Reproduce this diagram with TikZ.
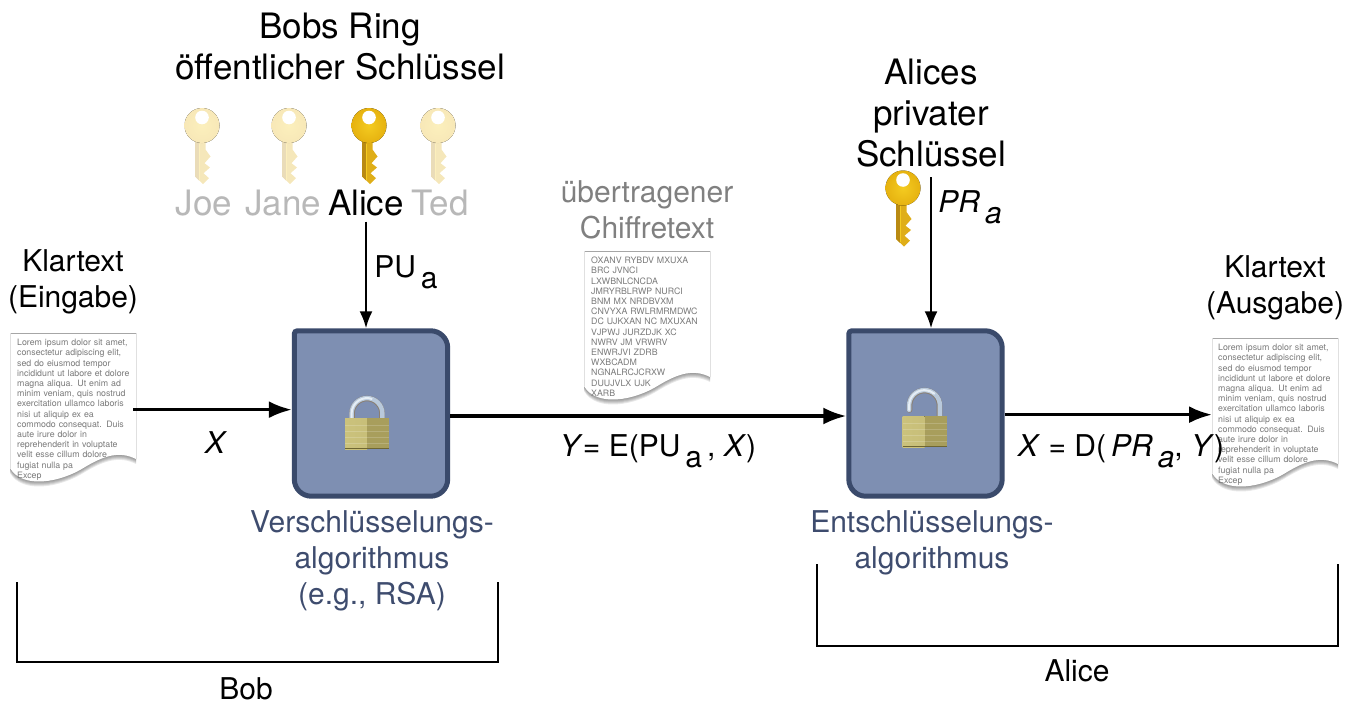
\documentclass[tikz,border=0pt]{standalone}
\usepackage{fontspec}
\usepackage{xcolor}
\usetikzlibrary{arrows.meta}
\setmainfont{TeX Gyre Heros}
\definecolor{boxfill}{HTML}{7E8FB2}
\definecolor{boxline}{HTML}{3A4A6B}
\definecolor{algtext}{HTML}{3E4C6E}
\definecolor{keygold}{HTML}{F4CB20}
\definecolor{keyedge}{HTML}{E6B210}
\definecolor{keyshaft}{HTML}{DFAE18}
\definecolor{keydark}{HTML}{B98A12}
\definecolor{brassl}{HTML}{CBC27C}
\definecolor{brassr}{HTML}{A89E5C}
\definecolor{brassd}{HTML}{6E6632}
\definecolor{steelo}{HTML}{B9C9DB}
\definecolor{steeli}{HTML}{E6EEF5}
\definecolor{steeld}{HTML}{8A7F72}
\newcommand{\fsize}[1]{\fontsize{#1}{#1}\selectfont}
\newcommand{\lowsub}[1]{\,\raisebox{-11pt}{#1}}
\tikzset{
	txt/.style={inner sep=0pt,align=center,font=\fontsize{30}{36}\selectfont},
	bigtxt/.style={inner sep=0pt,align=center,font=\fontsize{35}{41}\selectfont},
	algtxt/.style={txt,text=algtext},
	nametxt/.style={inner sep=0pt,font=\fsize{35},anchor=base},
	papertxt/.style={inner xsep=6pt,inner ysep=0pt,anchor=north west,text width=120pt,align=left,text=black!52,font=\fontsize{8.8}{10.2}\selectfont},
	algbox/.style={inner sep=0pt,minimum width=158pt,minimum height=170pt},
	mainarrow/.style={line width=3.2pt,-{Latex[length=23pt,width=17pt]}},
	keyarrow/.style={line width=2.2pt,-{Latex[length=17pt,width=13pt]}},
	bracket/.style={line width=1.8pt},
	pics/paperpage/.style={code={
		\foreach \d in {1,2,3,4,5}
			\fill [black,opacity=.09,shift={(0,\d)}] (0,0) -- (126,0) -- (126,126) .. controls (110,118) and (95,122) .. (75,134) .. controls (50,150) and (12,156) .. (0,135) -- cycle;
		\fill [white] (0,0) -- (126,0) -- (126,126) .. controls (110,118) and (95,122) .. (75,134) .. controls (50,150) and (12,156) .. (0,135) -- cycle;
		\draw [black!35,line width=.6pt] (0,0) -- (126,0);
		\draw [black!12,line width=.8pt] (126,0) -- (126,126);
		\draw [black!12,line width=.8pt] (0,0) -- (0,135);
	}},
	pics/keyicon/.style={code={
		\fill [keyshaft!#1!white] (-6.8,12) -- (-6.8,51) -- (1,58.7) -- (7,52.7) -- (1.5,47.7) -- (8,42) -- (2.5,37.7) -- (8.5,31) -- (3.5,24) -- (3.5,12) -- cycle;
		\fill [keydark!#1!white] (-6.8,12) -- (-6.8,51) -- (-3,55) -- (-3,12) -- cycle;
		\draw [keygold!#1!white,line width=.9pt] (-2.4,18) -- (-2.4,54);
		\fill [inner color=keygold!#1!white,outer color=keyedge!#1!white] (0,0) circle (17.5);
		\fill [white] (0,-8) circle (6.8);
	}},
	pics/lockbody/.style={code={
		\fill [left color=brassl,right color=brassl!90!brassr] (-22,0) rectangle (0,31);
		\fill [brassr] (0,0) rectangle (22,31);
		\foreach \y in {7,13,19,25}
			\draw [white,opacity=.18,line width=.6pt] (-22,\y) -- (22,\y);
		\draw [brassd,line width=1.2pt] (-22,30.5) -- (22,30.5);
	}},
	pics/lockclosed/.style={code={
		\draw [steeld,line width=5.6pt] (-15,0) -- (-15,-4.5) arc (180:360:15) -- (15,0);
		\draw [steelo,line width=4.4pt] (-15.4,0) -- (-15.4,-4.5) arc (180:360:15.4) -- (15.4,0);
		\draw [steeli,line width=2pt] (-15.4,0) -- (-15.4,-4.5) arc (180:290:15.4);
		\pic {lockbody};
	}},
	pics/lockopen/.style={code={
		\draw [steeld,line width=5.6pt,line cap=round] (-15,-6) -- (-15,-10.5) arc (180:360:15) -- (15,0);
		\draw [steelo,line width=4.4pt,line cap=round] (-15.4,-6) -- (-15.4,-10.5) arc (180:360:15.4) -- (15.4,0);
		\draw [steeli,line width=2pt,line cap=round] (-15.4,-6) -- (-15.4,-10.5) arc (180:310:15.4);
		\pic {lockbody};
	}}
}
\begin{document}
\begin{tikzpicture}[x=1pt,y=-1pt]
	\useasboundingbox (0,0) rectangle (1360,704);

	% Papier
	\pic at (10,333) {paperpage};
	\pic at (584,251) {paperpage};
	\pic at (1212,338) {paperpage};
	\node (plainin) at (11,339) [papertxt] {Lorem ipsum dolor sit amet,\\consectetur adipiscing elit,\\sed do eiusmod tempor\\incididunt ut labore et dolore\\magna aliqua. Ut enim ad\\minim veniam, quis nostrud\\exercitation ullamco laboris\\nisi ut aliquip ex ea\\commodo consequat. Duis\\aute irure dolor in\\reprehenderit in voluptate\\velit esse cillum dolore\\fugiat nulla pa\\Excep};
	\node (cipher) at (585,257) [papertxt] {OXANV RYBDV MXUXA\\BRC JVNCI\\LXWBNLCNCDA\\JMRYRBLRWP NURCI\\BNM MX NRDBVXM\\CNVYXA RWLRMRMDWC\\DC UJKXAN NC MXUXAN\\VJPWJ JURZDJK XC\\NWRV JM VRWRV\\ENWRJVI ZDRB\\WXBCADM\\NGNALRCJCRXW\\DUUJVLX UJK\\XARB};
	\node (plainout) at (1212,344) [papertxt] {Lorem ipsum dolor sit amet,\\consectetur adipiscing elit,\\sed do eiusmod tempor\\incididunt ut labore et dolore\\magna aliqua. Ut enim ad\\minim veniam, quis nostrud\\exercitation ullamco laboris\\nisi ut aliquip ex ea\\commodo consequat. Duis\\aute irure dolor in\\reprehenderit in voluptate\\velit esse cillum dolore\\fugiat nulla pa\\Excep};

	% Algorithmen
	\node (enc) at (371,413.5) [algbox] {};
	\node (dec) at (925.5,413.5) [algbox] {};
	\draw [boxline,fill=boxfill,line width=5pt] ([shift={(2.5,2.5)}]enc.north west) [rounded corners=3pt] -- ([shift={(0,2.5)}]enc.north) [rounded corners=17pt] -- ([shift={(-2.5,2.5)}]enc.north east) -- ([shift={(-2.5,-2.5)}]enc.south east) -- ([shift={(2.5,-2.5)}]enc.south west) [rounded corners=3pt] -- cycle;
	\draw [boxline,fill=boxfill,line width=5pt] ([shift={(2.5,2.5)}]dec.north west) [rounded corners=3pt] -- ([shift={(0,2.5)}]dec.north) [rounded corners=17pt] -- ([shift={(-2.5,2.5)}]dec.north east) -- ([shift={(-2.5,-2.5)}]dec.south east) -- ([shift={(2.5,-2.5)}]dec.south west) [rounded corners=3pt] -- cycle;
	\pic at (367,418) {lockclosed};
	\pic at (924.5,416) {lockopen};
	\node (enclabel) at (372,561) [algtxt] {Verschlüsselungs-\\algorithmus\\(e.g., RSA)};
	\node (declabel) at (932,543) [algtxt] {Entschlüsselungs-\\algorithmus};

	% Schluessel
	\pic at (202,125.5) {keyicon=30};
	\pic at (289,125.5) {keyicon=30};
	\pic at (369,125.5) {keyicon=100};
	\pic at (438,125.5) {keyicon=30};
	\pic at (903,188) {keyicon=100};

	\node (bobring) at (340,47) [bigtxt] {Bobs Ring\\öffentlicher Schlüssel};
	\node (joe) at (204,215) [nametxt,text=black!28] {Joe};
	\node (jane) at (283,215) [nametxt,text=black!28] {Jane};
	\node (alice) at (366,215) [nametxt,text=black] {Alice};
	\node (ted) at (440,215) [nametxt,text=black!28] {Ted};
	\node (alicepriv) at (931,113) [bigtxt] {Alices\\privater\\Schlüssel};
	\node (sent) at (647,210) [txt,text=black!50] {übertragener\\Chiffretext};
	\node (klarin) at (73,282) [txt] {Klartext\\(Eingabe)};
	\node (klarout) at (1275,288) [txt] {Klartext\\(Ausgabe)};

	% Pfeile
	\coordinate (yline) at (0,416);
	\draw [mainarrow] ([xshift=-10pt]plainin.east) -- (plainin.east -| enc.west);
	\draw [mainarrow] (enc.east |- yline) -- (dec.west |- yline);
	\draw [mainarrow] (plainout.west -| dec.east) -- (plainout.west);
	\draw [keyarrow] (alice.south) ++(0,6) -- (alice.south |- enc.north);
	\draw [keyarrow] (alicepriv.south) ++(0,10) -- (alicepriv.south |- dec.north);

	% Beschriftung
	\node (pua) at (406,272) [txt] {PU\lowsub{a}};
	\node (pra) at (970,207) [txt] {\textit{PR}\lowsub{\textit{a}}};
	\node (xin) at (216,443) [txt] {\textit{X}};
	\node (ylabel) at (658,451) [txt] {\textit{Y}= E(PU\lowsub{a}\,, \textit{X})};
	\node (xlabel) at (1121,451) [txt] {\textit{X} = D(\,\textit{PR}\lowsub{\textit{a}}, \textit{Y})};

	% Klammern
	\draw [bracket] (17,582) -- (17,662) -- (498,662) -- (498,582);
	\draw [bracket] (817,564) -- (817,646) -- (1338,646) -- (1338,564);
	\node (bob) at (246,689) [txt] {Bob};
	\node (alicename) at (1077,671) [txt] {Alice};
\end{tikzpicture}
\end{document}
